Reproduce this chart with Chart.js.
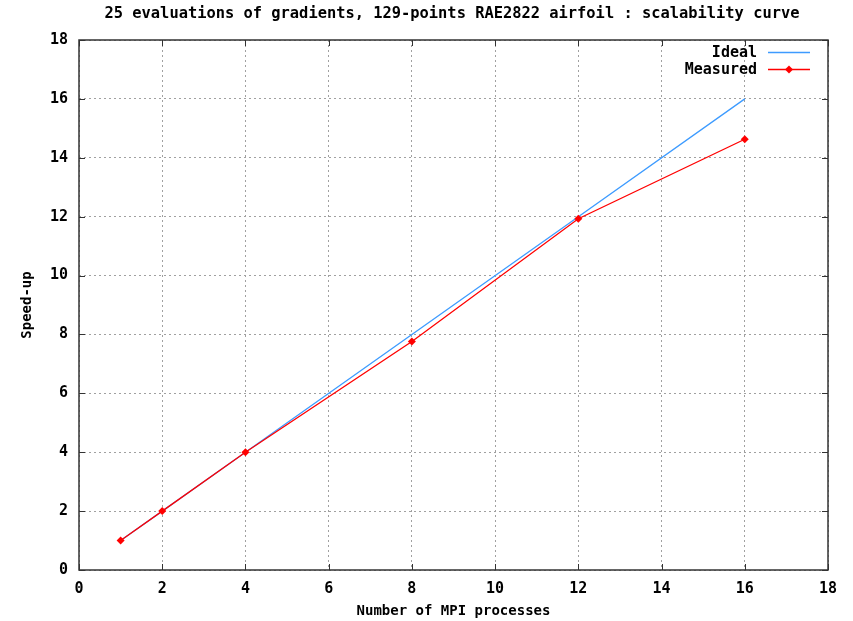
<!DOCTYPE html>
<html>
<head>
<meta charset="utf-8">
<script src="https://cdn.jsdelivr.net/npm/chart.js@4.4.1/dist/chart.umd.min.js"></script>
<style>
  html, body { margin: 0; padding: 0; background: #fff; }
  #wrap { width: 853px; height: 621px; }
</style>
</head>
<body>
<div id="wrap"><canvas id="scaling"></canvas></div>
<script>
// number of MPI processes and speed-ups
const processes = [1, 2, 4, 8, 12, 16];
const idealSpeedup = [1, 2, 4, 8, 12, 16];
const measuredSpeedup = [1, 2, 4, 7.76, 11.93, 14.63];
const xTickValues = [0, 2, 4, 6, 8, 10, 12, 14, 16, 18];
const yTickValues = [0, 2, 4, 6, 8, 10, 12, 14, 16, 18];
const titleText = '25 evaluations of gradients, 129-points RAE2822 airfoil : scalability curve';

const FONT = '"DejaVu Sans Mono", "Liberation Mono", monospace';
const BLUE = '#3d9bff';
const RED = '#ff0000';
const INK = '#000';

const toPoints = (ys) => processes.map((p, i) => ({ x: p, y: ys[i] }));

// gnuplot look: inward ticks on all 4 sides, frame, title and legend
const gnuplotFrame = {
    id: 'gnuplotFrame',
    afterDraw(chart) {
        const { ctx, chartArea: a, scales } = chart;
        ctx.save();
        ctx.strokeStyle = '#333';
        ctx.lineWidth = 1;
        const len = 6;
        ctx.beginPath();
        xTickValues.forEach(v => {
            const px = Math.round(scales.x.getPixelForValue(v)) + 0.5;
            ctx.moveTo(px, a.bottom); ctx.lineTo(px, a.bottom - len);
            ctx.moveTo(px, a.top); ctx.lineTo(px, a.top + len);
        });
        yTickValues.forEach(v => {
            const py = Math.round(scales.y.getPixelForValue(v)) + 0.5;
            ctx.moveTo(a.left, py); ctx.lineTo(a.left + len, py);
            ctx.moveTo(a.right, py); ctx.lineTo(a.right - len, py);
        });
        ctx.stroke();
        ctx.lineWidth = 1.5;
        ctx.strokeStyle = '#333';
        ctx.strokeRect(a.left, a.top, a.right - a.left, a.bottom - a.top);

        // title
        ctx.fillStyle = INK;
        ctx.font = 'bold 15.4px ' + FONT;
        ctx.textAlign = 'center';
        ctx.textBaseline = 'middle';
        ctx.fillText(titleText, 452, 14);

        // legend, top right inside the plot
        const items = [
            { label: 'Ideal', color: BLUE, marker: false },
            { label: 'Measured', color: RED, marker: true }
        ];
        ctx.font = 'bold 15px ' + FONT;
        ctx.textAlign = 'right';
        items.forEach((it, i) => {
            const y = 52 + i * 17;
            ctx.fillStyle = INK;
            ctx.fillText(it.label, 757, y + 1);
            ctx.strokeStyle = it.color;
            ctx.lineWidth = 1.3;
            ctx.beginPath();
            ctx.moveTo(768, y + 0.5); ctx.lineTo(810, y + 0.5);
            ctx.stroke();
            if (it.marker) {
                ctx.fillStyle = it.color;
                ctx.beginPath();
                ctx.moveTo(789, y - 3.5); ctx.lineTo(793, y + 0.5);
                ctx.lineTo(789, y + 4.5); ctx.lineTo(785, y + 0.5);
                ctx.closePath();
                ctx.fill();
            }
        });
        ctx.restore();
    }
};

const ctx = document.getElementById('scaling').getContext('2d');
new Chart(ctx, {
    type: 'line',
    data: {
        datasets: [
            { label: 'Ideal', data: toPoints(idealSpeedup), borderColor: BLUE, backgroundColor: BLUE, borderWidth: 1.3, pointRadius: 0, tension: 0, order: 2 },
            { label: 'Measured', data: toPoints(measuredSpeedup), borderColor: RED, backgroundColor: RED, borderWidth: 1.3, pointStyle: 'rectRot', pointRadius: 4, pointBorderWidth: 0, tension: 0, order: 1 }
        ]
    },
    options: {
        responsive: true,
        maintainAspectRatio: false,
        animation: false,
        events: [],
        layout: { padding: { top: 40, right: 25, left: 0, bottom: 0 } },
        plugins: { legend: { display: false }, tooltip: { enabled: false } },
        scales: {
            x: {
                type: 'linear', min: 0, max: 18,
                afterBuildTicks: s => { s.ticks = xTickValues.map(v => ({ value: v })); },
                afterFit: s => { s.height = 51; },
                grid: { color: '#a0a0a0', drawTicks: false, lineWidth: 1 },
                border: { display: false, dash: [2, 3] },
                ticks: { color: INK, font: { family: FONT, size: 15, weight: 'bold' }, padding: 10, maxRotation: 0 },
                title: { display: true, text: 'Number of MPI processes', color: INK, font: { family: FONT, size: 14, weight: 'bold' }, padding: { top: 4, bottom: 1 } }
            },
            y: {
                type: 'linear', min: 0, max: 18,
                afterBuildTicks: s => { s.ticks = yTickValues.map(v => ({ value: v })); },
                afterFit: s => { s.width = 79; },
                grid: { color: '#a0a0a0', drawTicks: false, lineWidth: 1 },
                border: { display: false, dash: [2, 3] },
                ticks: { color: INK, font: { family: FONT, size: 15, weight: 'bold' }, padding: 11 },
                title: { display: true, text: 'Speed-up', color: INK, font: { family: FONT, size: 14, weight: 'bold' }, padding: { top: 19, bottom: 0 } }
            }
        }
    },
    plugins: [gnuplotFrame]
});
</script>
</body>
</html>
